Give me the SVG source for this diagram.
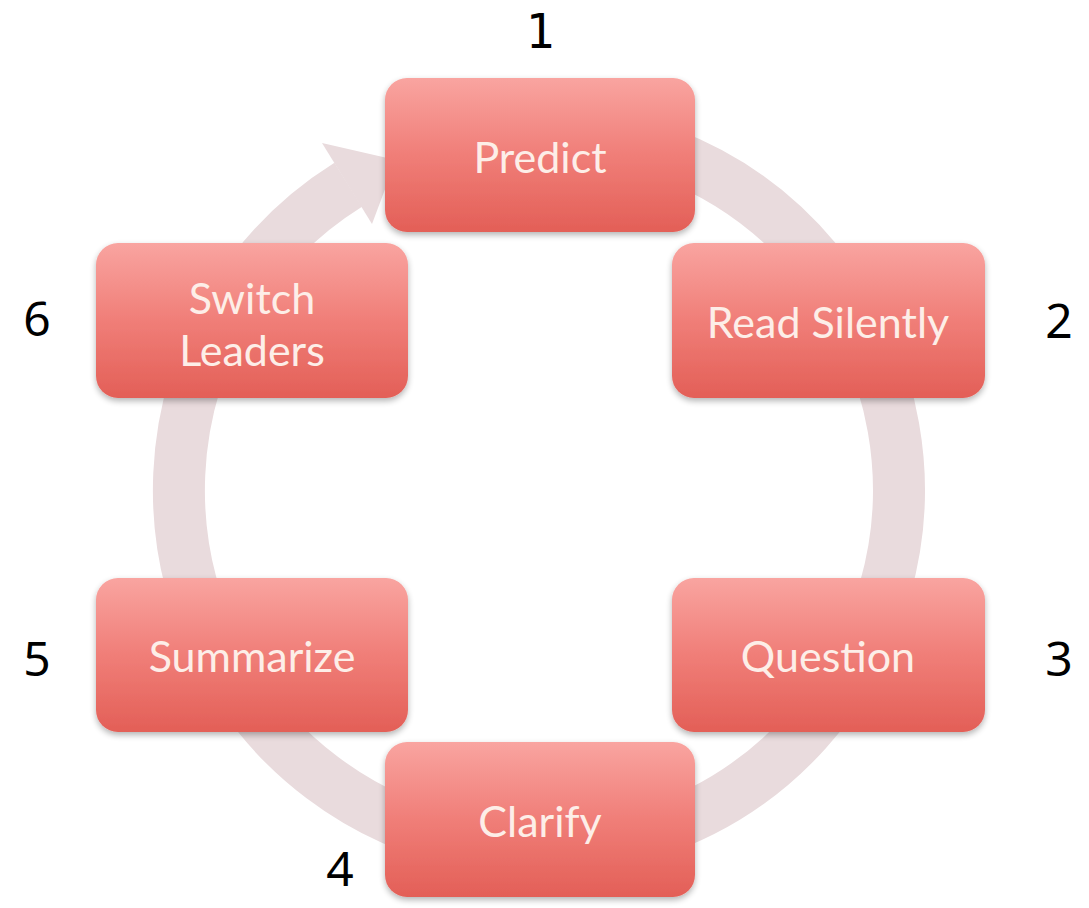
<svg xmlns="http://www.w3.org/2000/svg" width="1089" height="908" viewBox="0 0 1089 908">
<defs>
<linearGradient id="boxg" x1="0" y1="0" x2="0" y2="1">
<stop offset="0" stop-color="#f9a4a0"/>
<stop offset="0.5" stop-color="#f07e78"/>
<stop offset="1" stop-color="#e35f57"/>
</linearGradient>
<filter id="sh" x="-10%" y="-10%" width="120%" height="130%">
<feGaussianBlur in="SourceAlpha" stdDeviation="3"/>
<feOffset dy="3"/>
<feComponentTransfer><feFuncA type="linear" slope="0.3"/></feComponentTransfer>
<feMerge><feMergeNode/><feMergeNode in="SourceGraphic"/></feMerge>
</filter>
<style>
.box{fill:url(#boxg);filter:url(#sh);}
.lbl{font-family:Lato,"Open Sans",sans-serif;font-size:43px;fill:#fdeee8;text-anchor:middle;}
.num{font-family:"Noto Sans","Open Sans",sans-serif;font-size:48px;fill:#000;text-anchor:middle;}
.ring{fill:none;stroke:#e9dbdd;stroke-width:52;}
</style>
</defs>
<rect width="1089" height="908" fill="#ffffff"/>
<g id="connectors">
<path class="ring" d="M507.6,131.4 A360,360 0 1 1 348.2,184.7"/>
<polygon points="322,143 396,160 372,224" fill="#e9dbdd"/>
</g>
<g id="predict"><rect class="box" x="385" y="78" width="310" height="154" rx="22"/><text class="lbl" x="540" y="173">Predict</text></g>
<g id="read-silently"><rect class="box" x="672" y="243" width="313" height="155" rx="22"/><text class="lbl" x="828" y="338">Read Silently</text></g>
<g id="question"><rect class="box" x="672" y="578" width="313" height="154" rx="22"/><text class="lbl" x="828" y="672">Question</text></g>
<g id="clarify"><rect class="box" x="385" y="742" width="310" height="155" rx="22"/><text class="lbl" x="540" y="837">Clarify</text></g>
<g id="summarize"><rect class="box" x="96" y="578" width="312" height="154" rx="22"/><text class="lbl" x="252" y="672">Summarize</text></g>
<g id="switch-leaders"><rect class="box" x="96" y="243" width="312" height="155" rx="22"/><text class="lbl" x="252" y="314">Switch</text><text class="lbl" x="252" y="366">Leaders</text></g>
<g id="numbers">
<text class="num" x="540" y="48" style="font-family:'DejaVu Sans Mono',monospace">1</text>
<text class="num" x="1059" y="338">2</text>
<text class="num" x="1059" y="676">3</text>
<text class="num" x="340" y="886">4</text>
<text class="num" x="37" y="676">5</text>
<text class="num" x="37" y="336">6</text>
</g>
</svg>
